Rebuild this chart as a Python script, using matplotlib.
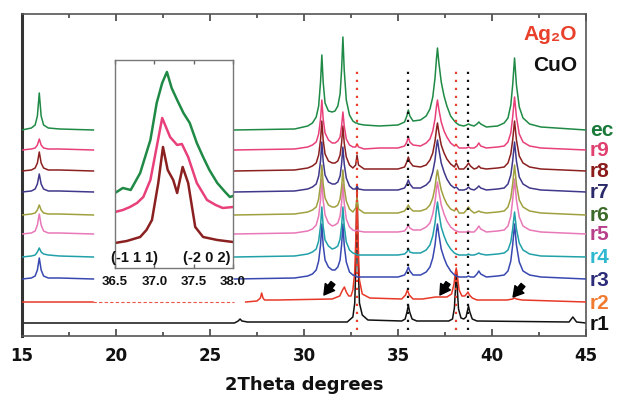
import matplotlib
matplotlib.use('Agg')
import matplotlib.pyplot as plt

# stacked XRD patterns, intensities (arbitrary units)
names = ['r1', 'r2', 'r3', 'r4', 'r5', 'r6', 'r7', 'r8', 'r9', 'ec']
baselines = [13, 34, 57, 79, 102, 121, 144, 165, 186, 206]
line_colors = ['#111111', '#e83828', '#3848b0', '#20a0a8', '#e878b8',
               '#a0a040', '#40388a', '#8b2020', '#e8407a', '#1f8a45']
label_colors = ['#111111', '#f07a30', '#2c2c78', '#30b8d0', '#b8408a',
                '#3c6a28', '#2a2a6a', '#8b1a1a', '#e04070', '#1a7a3a']

# low angle part (15 - 18.8) for r3..ec
x_low = [15, 15.5, 15.7, 15.82, 15.92, 16.02, 16.15, 16.4, 17.0, 18.8]
y_low = {
    'r3': [0, 1, 3, 9, 21, 9, 3, 1, 1, 0],
    'r4': [0, 1, 2, 5, 9, 5, 3, 2, 1, 0],
    'r5': [0, 1, 3, 9, 20, 9, 3, 1, 1, 0],
    'r6': [0, 1, 2, 5, 10, 5, 2, 1, 1, 0],
    'r7': [0, 1, 3, 8, 18, 8, 3, 1, 1, 0],
    'r8': [0, 1, 3, 8, 19, 8, 3, 1, 1, 0],
    'r9': [0, 1, 2, 5, 11, 5, 2, 1, 1, 0],
    'ec': [0, 2, 5, 14, 37, 14, 5, 2, 1, 0],
}

# high angle part (26.3 - 45) for r3..ec
x_high = [26.3, 29.5, 30.2, 30.45, 30.65, 30.78, 30.88, 30.95, 31.02, 31.12,
          31.3, 31.5, 31.65, 31.8, 31.92, 32.0, 32.07, 32.14, 32.25, 32.42,
          32.6, 32.75, 32.82, 32.9, 33.2, 34.0, 35.0, 35.35, 35.47, 35.55,
          35.63, 35.8, 36.2, 36.5, 36.7, 36.85, 36.97, 37.05, 37.1, 37.17,
          37.3, 37.45, 37.6, 37.8, 38.0, 38.1, 38.25, 38.5, 38.65, 38.75,
          38.85, 39.05, 39.2, 39.3, 39.4, 39.7, 40.3, 40.65, 40.85, 41.0,
          41.1, 41.2, 41.3, 41.45, 41.65, 42.0, 42.6, 45.0]
y_high = {
    'r3': [0, 1, 3, 5, 9, 18, 34, 55, 34, 19,
           12, 9, 9, 12, 19, 34, 55, 34, 17, 7,
           4, 3, 2, 2, 2, 2, 2, 4, 8, 12,
           8, 4, 4, 7, 12, 21, 34, 48, 55, 45,
           30, 21, 14, 8, 4, 3, 2, 2, 2, 3,
           2, 2, 5, 8, 5, 2, 3, 4, 8, 18,
           34, 55, 34, 17, 8, 4, 2, 0],
    'r4': [0, 1, 3, 5, 8, 16, 31, 50, 31, 17,
           11, 8, 9, 11, 18, 31, 50, 31, 15, 7,
           4, 3, 2, 2, 2, 2, 2, 3, 5, 8,
           5, 4, 4, 7, 12, 21, 34, 48, 55, 45,
           30, 21, 14, 8, 4, 3, 2, 2, 2, 3,
           2, 2, 3, 4, 3, 2, 3, 4, 7, 15,
           28, 45, 28, 14, 7, 3, 1, 0],
    'r5': [0, 1, 3, 5, 9, 18, 34, 55, 34, 19,
           11, 8, 9, 11, 18, 31, 50, 31, 15, 7,
           4, 3, 4, 3, 2, 2, 2, 3, 6, 9,
           6, 4, 4, 7, 11, 20, 32, 46, 52, 43,
           29, 20, 13, 7, 4, 3, 2, 2, 2, 3,
           2, 2, 5, 8, 5, 2, 3, 4, 8, 18,
           34, 55, 34, 17, 8, 4, 2, 0],
    'r6': [0, 1, 3, 5, 8, 16, 31, 50, 31, 17,
           10, 8, 8, 10, 16, 28, 45, 28, 14, 6,
           3, 7, 17, 6, 2, 2, 2, 4, 7, 10,
           7, 4, 4, 6, 10, 17, 28, 40, 45, 37,
           25, 17, 11, 6, 4, 7, 2, 2, 5, 8,
           5, 2, 3, 4, 3, 2, 3, 4, 8, 17,
           31, 50, 31, 15, 8, 4, 2, 0],
    'r7': [0, 1, 3, 5, 8, 16, 31, 50, 31, 17,
           10, 8, 8, 10, 16, 28, 45, 28, 14, 6,
           3, 3, 6, 3, 2, 2, 2, 4, 8, 12,
           8, 4, 4, 7, 11, 20, 32, 46, 52, 43,
           29, 20, 13, 7, 4, 5, 2, 2, 3, 5,
           3, 2, 4, 6, 4, 2, 3, 4, 8, 17,
           31, 50, 31, 15, 8, 4, 2, 0],
    'r8': [0, 1, 3, 5, 8, 16, 31, 50, 31, 17,
           10, 8, 8, 10, 16, 28, 45, 28, 14, 6,
           3, 6, 16, 6, 2, 2, 2, 4, 9, 14,
           9, 5, 4, 6, 11, 18, 30, 42, 48, 39,
           26, 18, 12, 7, 4, 8, 2, 2, 5, 8,
           5, 2, 3, 5, 3, 2, 3, 4, 8, 17,
           31, 50, 31, 15, 8, 4, 2, 0],
    'r9': [0, 1, 3, 5, 8, 16, 31, 50, 31, 17,
           10, 7, 7, 9, 13, 24, 38, 24, 11, 5,
           3, 3, 6, 3, 1, 2, 2, 4, 8, 13,
           8, 5, 4, 7, 11, 19, 31, 44, 50, 41,
           28, 19, 13, 7, 4, 5, 2, 2, 2, 3,
           2, 2, 4, 7, 4, 2, 3, 4, 8, 17,
           33, 53, 33, 16, 8, 4, 2, 0],
    'ec': [0, 1, 4, 7, 13, 24, 48, 75, 48, 27,
           19, 18, 19, 24, 36, 60, 93, 60, 30, 15,
           9, 7, 7, 6, 5, 4, 5, 8, 14, 20,
           14, 9, 10, 14, 21, 33, 52, 72, 82, 68,
           48, 34, 24, 14, 9, 7, 5, 4, 5, 6,
           5, 4, 6, 8, 6, 3, 4, 7, 12, 25,
           45, 72, 45, 23, 12, 6, 3, 0],
}

# r2 (continuous, broken-looking in the middle)
r2_x_low = [15, 18.8]
r2_y_low = [0, 0]
r2_x_mid = [18.8, 26.3]
r2_y_mid = [0, 0]
r2_x_high = [26.9, 27.5, 27.68, 27.75, 27.82, 27.9, 28.1, 28.6,
             31.5, 31.9, 32.05, 32.15, 32.25, 32.38, 32.5, 32.6, 32.7, 32.76,
             32.82, 32.88, 32.95, 33.1, 33.5,
             35.2, 35.4, 35.5, 35.6, 35.8,
             36.3, 37.0, 37.6, 37.85, 37.98, 38.04, 38.1, 38.16, 38.25, 38.4,
             38.55, 38.65, 38.72, 38.8, 38.95, 39.2,
             40.8, 41.1, 41.2, 41.3, 41.6, 45]
r2_y_high = [0, 1, 4, 9, 4, 2, 2, 2,
             3, 6, 12, 15, 10, 6, 6, 12, 30, 65, 112, 60, 22, 8, 4,
             3, 7, 12, 7, 3,
             3, 5, 5, 8, 18, 28, 34, 26, 12, 6,
             6, 8, 10, 7, 4, 2,
             2, 3, 4, 3, 2, 0]

# r1
r1_x = [15, 26.3, 26.5, 26.6, 26.7, 27.0,
        32.3, 32.6, 32.7, 32.76, 32.82, 32.88, 32.95, 33.1, 33.4,
        35.2, 35.38, 35.48, 35.55, 35.62, 35.75, 36.0,
        37.7, 37.9, 38.0, 38.05, 38.1, 38.16, 38.22, 38.35,
        38.5, 38.62, 38.68, 38.75, 38.82, 38.95, 39.2,
        44.1, 44.22, 44.3, 44.38, 44.5, 45]
r1_y = [0, 0, 2, 4, 2, 1,
        1, 6, 20, 60, 138, 60, 20, 8, 3,
        2, 4, 11, 18, 11, 4, 2,
        2, 4, 15, 32, 53, 32, 14, 5,
        4, 6, 11, 17, 11, 4, 2,
        1, 4, 6, 4, 1, 0]

# reference lines
ag2o_lines = [32.82, 38.1]
cuo_lines = [35.55, 38.75]

# arrows (tip, tail) marking weak r2 features
arrow_tips = [(31.06, 41), (37.23, 41), (41.12, 39)]
arrow_tails = [(31.54, 53), (37.66, 53), (41.65, 51)]

# inset: zoom on 36.5 - 38.0
ins_green_x = [36.5, 36.6, 36.7, 36.82, 36.95, 37.03, 37.1, 37.16, 37.22, 37.29,
               37.37, 37.45, 37.54, 37.62, 37.7, 37.8, 37.9, 37.96, 38.0]
ins_green_y = [75, 80, 78, 95, 128, 165, 185, 196, 180, 168, 155, 145, 125, 111,
               98, 85, 76, 71, 72]
ins_pink_x = [36.5, 36.6, 36.69, 36.78, 36.86, 36.95, 37.03, 37.1, 37.2, 37.29,
              37.35, 37.43, 37.54, 37.67, 37.78, 37.87, 38.0]
ins_pink_y = [56, 58, 61, 65, 71, 88, 121, 150, 131, 123, 124, 111, 85, 68, 63,
              60, 61]
ins_brown_x = [36.5, 36.65, 36.82, 36.9, 36.97, 37.05, 37.11, 37.17, 37.24, 37.29,
               37.36, 37.43, 37.52, 37.62, 37.8, 37.9, 38.0]
ins_brown_y = [25, 27, 31, 38, 48, 85, 121, 98, 88, 75, 101, 85, 41, 31, 28, 27, 26]
ins_ticks = [36.5, 37.0, 37.5, 38.0]
ins_tick_labels = ['36.5', '37.0', '37.5', '38.0']

fig = plt.figure(figsize=(6.26, 3.94), dpi=100)
ax = fig.add_axes([0.0351, 0.1472, 0.901, 0.8173])

lw = 1.1
for i, name in enumerate(names):
    base = baselines[i]
    c = line_colors[i]
    if name == 'r1':
        ax.plot(r1_x, [v + base for v in r1_y], color=c, lw=lw, zorder=2 + i)
    elif name == 'r2':
        ax.plot(r2_x_low, [v + base for v in r2_y_low], color=c, lw=lw, zorder=2 + i)
        ax.plot(r2_x_mid, [v + base for v in r2_y_mid], color=c, lw=0.8,
                dashes=(3, 2), alpha=0.85, zorder=2 + i)
        ax.plot(r2_x_high, [v + base for v in r2_y_high], color=c, lw=lw, zorder=2 + i)
    else:
        ax.plot(x_low, [v + base for v in y_low[name]], color=c, lw=lw, zorder=2 + i)
        ax.plot(x_high, [v + base for v in y_high[name]], color=c, lw=lw, zorder=2 + i)
    ax.text(45.21, base - 1, name, color=label_colors[i], fontsize=15,
            fontweight='bold', family=['Liberation Sans', 'DejaVu Sans'],
            ha='left', va='center', clip_on=False)

for xv in ag2o_lines:
    ax.plot([xv, xv], [6, 270], color='#e8402a', lw=1.6, ls=(0, (1, 2.6)), zorder=20)
for xv in cuo_lines:
    ax.plot([xv, xv], [6, 270], color='#111111', lw=1.6, ls=(0, (1, 2.6)), zorder=20)

for tip, tail in zip(arrow_tips, arrow_tails):
    ax.annotate('', xy=tip, xytext=tail,
                arrowprops=dict(arrowstyle='simple,head_width=0.7,head_length=0.6,tail_width=0.3',
                                color='black', mutation_scale=12, shrinkA=0, shrinkB=0),
                zorder=21)

ax.text(44.52, 301, 'Ag\u2082O', color='#e8402a', fontsize=15, fontweight='bold',
        family=['Liberation Sans', 'DejaVu Sans'], ha='right', va='center')
ax.text(44.52, 270, 'CuO', color='#111111', fontsize=15, fontweight='bold',
        family=['Liberation Sans', 'DejaVu Sans'], ha='right', va='center')

ax.set_xlim(15, 45)
ax.set_ylim(0, 322)
ax.set_yticks([])
ax.set_xticks([15, 20, 25, 30, 35, 40, 45])
ax.set_xticks([17.5, 22.5, 27.5, 32.5, 37.5, 42.5], minor=True)
ax.tick_params(axis='x', which='both', direction='in', top=True, width=1.2,
               colors='#444444', labelcolor='#111111', pad=8)
ax.tick_params(axis='x', which='major', length=5)
ax.tick_params(axis='x', which='minor', length=3)
for lab in ax.get_xticklabels():
    lab.set_fontweight('bold')
    lab.set_fontsize(12)
    lab.set_family('DejaVu Sans')
ax.set_xlabel('2Theta degrees', fontsize=13, fontweight='bold', family='DejaVu Sans',
              labelpad=8, color='#111111')
for side in ['top', 'right', 'bottom']:
    ax.spines[side].set_color('#555555')
    ax.spines[side].set_linewidth(1.2)
ax.spines['left'].set_color('#333333')
ax.spines['left'].set_linewidth(2.2)

# inset
ins = fig.add_axes([0.1837, 0.3198, 0.1885, 0.528])
ins.plot(ins_green_x, ins_green_y, color='#1f8a45', lw=1.8)
ins.plot(ins_pink_x, ins_pink_y, color='#e8407a', lw=1.8)
ins.plot(ins_brown_x, ins_brown_y, color='#8b2020', lw=1.8)
ins.set_xlim(36.5, 38.0)
ins.set_ylim(0, 208)
ins.set_yticks([])
ins.set_xticks(ins_ticks)
ins.set_xticklabels(ins_tick_labels, fontsize=9.5, fontweight='bold',
                    family='Liberation Sans')
ins.tick_params(axis='x', direction='in', top=True, length=3, width=1,
                colors='#666666', labelcolor='#111111', pad=6)
for side in ins.spines:
    ins.spines[side].set_color('#777777')
    ins.spines[side].set_linewidth(1.0)
ins.text(36.75, 10, '(-1 1 1)', fontsize=10.5, fontweight='bold',
         family='Liberation Sans', ha='center', va='center', color='#111111')
ins.text(37.66, 10, '(-2 0 2)', fontsize=10.5, fontweight='bold',
         family='Liberation Sans', ha='center', va='center', color='#111111')

fig.savefig('out.png', dpi=100)
